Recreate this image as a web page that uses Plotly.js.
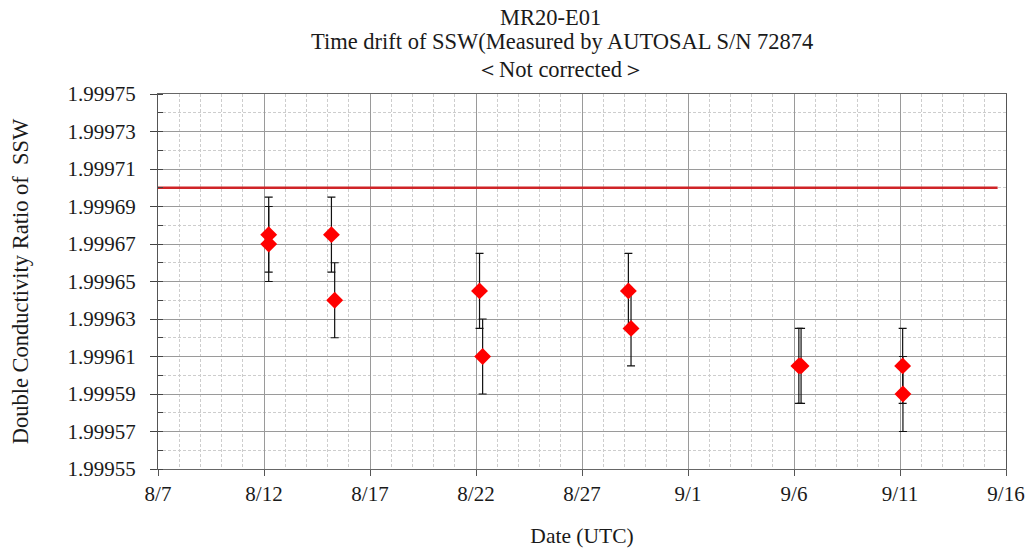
<!DOCTYPE html>
<html>
<head>
<meta charset="utf-8">
<script src="https://cdn.plot.ly/plotly-3.0.1.min.js"></script>
<style>html,body{margin:0;padding:0;background:#fff;}#chart{width:1031px;height:552px;}</style>
</head>
<body>
<div id="chart"></div>
<script>
// Measurement times (UTC) and double conductivity ratios of SSW
const times = ['2020-08-12 05:20','2020-08-12 05:20','2020-08-15 04:20','2020-08-15 08:00',
               '2020-08-22 04:00','2020-08-22 07:30','2020-08-29 04:30','2020-08-29 07:30',
               '2020-09-06 05:30','2020-09-06 08:00','2020-09-11 03:00','2020-09-11 03:20'];
const ratios = [1.999675, 1.99967, 1.999675, 1.99964,
                1.999645, 1.99961, 1.999645, 1.999625,
                1.999605, 1.999605, 1.999605, 1.99959];
const errors = [0.00002, 0.00002, 0.00002, 0.00002,
                0.00002, 0.00002, 0.00002, 0.00002,
                0.00002, 0.00002, 0.00002, 0.00002];
// Standard sea water reference value line
const refTimes = ['2020-08-07 00:00', '2020-09-15 14:30'];
const refValues = [1.9997, 1.9997];
const xRange = ['2020-08-07', '2020-09-16'];
const yRange = [1.99955, 1.99975];
const titleLines = ['MR20-E01', 'Time drift of SSW(Measured by AUTOSAL S/N 72874', '＜Not corrected＞'];

const FONT = '"Liberation Serif", "Times New Roman", serif';
const txt = '#1a1a1a';

const traces = [
  {x: refTimes, y: refValues, type: 'scatter', mode: 'lines',
   line: {color: '#cf2427', width: 2.6}, hoverinfo: 'skip'},
  {x: times, y: ratios, type: 'scatter', mode: 'markers',
   marker: {symbol: 'diamond', size: 13, color: '#ff0000'},
   error_y: {type: 'data', array: errors, visible: true, color: '#111', thickness: 1.2, width: 4}}
];

const titlePos = [[0.4623, 1.2053], [0.4765, 1.1387], [0.4741, 1.064]];
const annotations = titleLines.map((t, i) => ({
  text: t, xref: 'paper', yref: 'paper', x: titlePos[i][0], y: titlePos[i][1],
  xanchor: 'center', yanchor: 'middle', showarrow: false,
  font: {family: FONT, size: 22.5, color: txt}
}));

const layout = {
  width: 1031, height: 552,
  margin: {l: 157.5, r: 24.5, t: 94, b: 83},
  paper_bgcolor: '#fff', plot_bgcolor: '#fff',
  showlegend: false,
  font: {family: FONT, size: 21, color: txt},
  annotations: annotations,
  xaxis: {
    type: 'date', range: xRange, tick0: '2020-08-07', dtick: 432000000,
    tickformat: '%-m/%-d', ticks: 'outside', ticklen: 6, tickcolor: '#555',
    showline: true, linecolor: '#666', linewidth: 1, mirror: true,
    showgrid: true, gridcolor: '#9a9a9a', gridwidth: 1,
    minor: {dtick: 86400000, showgrid: true, gridcolor: '#cdcdcd', griddash: '3px,2px', gridwidth: 1},
    tickfont: {family: FONT, size: 21, color: txt},
    title: {text: 'Date (UTC)', font: {family: FONT, size: 21.5, color: txt}, standoff: 22},
    zeroline: false
  },
  yaxis: {
    range: yRange, tick0: 1.99955, dtick: 0.00002, tickformat: '.5f',
    ticks: 'outside', ticklen: 7, tickcolor: '#444', ticklabelstandoff: 10,
    showline: true, linecolor: '#555', linewidth: 1, mirror: true,
    showgrid: true, gridcolor: '#9a9a9a', gridwidth: 1,
    minor: {dtick: 0.00001, ticks: 'inside', ticklen: 5, tickcolor: '#444',
            showgrid: true, gridcolor: '#cdcdcd', griddash: '3px,2px', gridwidth: 1},
    tickfont: {family: FONT, size: 21, color: txt},
    title: {text: 'Double Conductivity Ratio of  SSW', font: {family: FONT, size: 22.5, color: txt}, standoff: 32},
    zeroline: false
  },
  yaxis2: {
    overlaying: 'y', side: 'left', range: yRange, tick0: 1.99955, dtick: 0.00002,
    ticks: 'inside', ticklen: 7, tickcolor: '#444', showticklabels: false,
    showgrid: false, zeroline: false, showline: false
  }
};

Plotly.newPlot('chart', traces, layout, {staticPlot: true});
</script>
</body>
</html>
